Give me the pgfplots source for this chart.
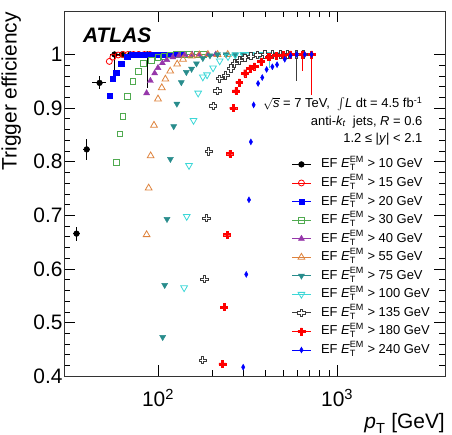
\documentclass[border=0pt]{standalone}
\usepackage{fontspec}
\setmainfont{Liberation Sans}
\usepackage{amsmath}
\usepackage{pgfplots}
\pgfplotsset{compat=1.18}

\definecolor{cgreen}{RGB}{80,170,80}
\definecolor{cpurple}{RGB}{150,55,170}
\definecolor{corange}{RGB}{222,130,60}
\definecolor{cteal}{RGB}{40,140,140}
\definecolor{ccyan}{RGB}{60,215,215}
\definecolor{cgrey}{RGB}{60,60,60}

\pgfdeclareplotmark{crosspath}{%
  \pgfpathmoveto{\pgfpoint{0.3*\pgfplotmarksize}{\pgfplotmarksize}}%
  \pgfpathlineto{\pgfpoint{0.3*\pgfplotmarksize}{0.3*\pgfplotmarksize}}%
  \pgfpathlineto{\pgfpoint{\pgfplotmarksize}{0.3*\pgfplotmarksize}}%
  \pgfpathlineto{\pgfpoint{\pgfplotmarksize}{-0.3*\pgfplotmarksize}}%
  \pgfpathlineto{\pgfpoint{0.3*\pgfplotmarksize}{-0.3*\pgfplotmarksize}}%
  \pgfpathlineto{\pgfpoint{0.3*\pgfplotmarksize}{-\pgfplotmarksize}}%
  \pgfpathlineto{\pgfpoint{-0.3*\pgfplotmarksize}{-\pgfplotmarksize}}%
  \pgfpathlineto{\pgfpoint{-0.3*\pgfplotmarksize}{-0.3*\pgfplotmarksize}}%
  \pgfpathlineto{\pgfpoint{-\pgfplotmarksize}{-0.3*\pgfplotmarksize}}%
  \pgfpathlineto{\pgfpoint{-\pgfplotmarksize}{0.3*\pgfplotmarksize}}%
  \pgfpathlineto{\pgfpoint{-0.3*\pgfplotmarksize}{0.3*\pgfplotmarksize}}%
  \pgfpathlineto{\pgfpoint{-0.3*\pgfplotmarksize}{\pgfplotmarksize}}%
  \pgfpathclose}
\pgfdeclareplotmark{ocross}{\pgfuseplotmark{crosspath}\pgfusepathqfillstroke}
\pgfdeclareplotmark{fcross}{\pgfuseplotmark{crosspath}\pgfusepathqfillstroke}

\begin{document}
\begin{tikzpicture}
\useasboundingbox (-64.3bp,-58.7bp) rectangle (387.7bp,376.3bp);
\begin{axis}[
  scale only axis,
  width=380.7bp, height=365.3bp,
  xmode=log,
  xmin=30, xmax=4000,
  ymin=0.4, ymax=1.081,
  xtick={100,1000},
  xticklabels={10\textsuperscript{2},10\textsuperscript{3}},
  ytick={0.4,0.5,0.6,0.7,0.8,0.9,1},
  yticklabels={0.4,0.5,0.6,0.7,0.8,0.9,1},
  minor y tick num=4,
  tick align=inside,
  major tick length=11bp,
  minor tick length=6bp,
  every tick/.style={black, line width=0.8bp},
  axis line style={line width=0.8bp, black!80},
  tick label style={font=\fontsize{21}{25}\selectfont},
  label style={font=\fontsize{21}{25}\selectfont},
  xticklabel style={anchor=base, yshift=-30.4bp, inner sep=0pt},
  yticklabel style={inner xsep=1.6bp},
  xlabel={$\textit{p}_{\text{T}}$ [GeV]},
  xlabel style={at={(rel axis cs:1,0)}, anchor=base east, yshift=-51.7bp, inner sep=0pt},
  ylabel={Trigger efficiency},
  ylabel style={at={(rel axis cs:-0.125,0.997)}, anchor=base east, inner sep=0pt},
  legend cell align=left,
  legend style={at={(rel axis cs:0.597,0.606)}, anchor=north west, draw=none, fill=none,
    font=\fontsize{13}{15.6}\selectfont, inner sep=0pt, column sep=10bp, row sep=0pt,
    nodes={inner ysep=2.78bp, inner xsep=0pt, text height=10bp, text depth=3bp}},
  legend image code/.code={%
    \draw[sharp plot, line width=0.9bp] (0bp,0bp) -- (18.4bp,0bp);
    \draw[only marks] plot coordinates {(9.2bp,0bp)};},
  error bars/error bar style={line width=0.9bp},
  error bars/error mark=none,
  error bars/x dir=both, error bars/x explicit,
  error bars/y dir=both, error bars/y explicit,
]

% EF > 10 GeV
\addplot[only marks, black, mark=*, mark size=2.9pt]
coordinates {
 (35.1,0.666) +- (1.4,0.013)
 (40.0,0.823) +- (2.0,0.019)
 (47.2,0.947) +- (4.3,0.012)
 (57.2,1.000) += (3.0,0) -= (3.0,0.033)
 (63,1.000) +- (3.0,0)
 (70,1.000) +- (3.5,0)
 (78,1.000) +- (4.0,0)
 (87.3,1.000) += (4.0,0) -= (4.0,0.063)
};
\addlegendentry{EF $\textit{E}_{\text{T}}^{\text{EM}}$ > 10 GeV}

% EF > 15 GeV
\addplot[only marks, red, mark=o, mark size=3pt, mark options={fill=white, line width=0.8bp}]
coordinates {
 (53.5,0.987) (56,0.995) (60,0.999) +- (2.4,0) (64,1) +- (2.6,0) (68,1) +- (2.7,0)
 (73,1) +- (2.9,0) (78,1) +- (3.1,0) (84,1) +- (3.4,0) (90,1) +- (3.6,0)
};
\addlegendentry{EF $\textit{E}_{\text{T}}^{\text{EM}}$ > 15 GeV}

% EF > 20 GeV
\addplot[only marks, blue, mark=square*, mark size=2.6pt]
coordinates {
 (53.7,0.923) (56,0.955) (58.5,0.966) (62.4,0.983) (67.4,0.996) +- (2.7,0)
 (71.5,0.999) +- (2.9,0) (76,1) +- (3,0) (81,1) +- (3.2,0) (86,1) +- (3.4,0)
 (92,1) +- (3.7,0) (98,1) +- (3.9,0) (104,1) +- (4.2,0) (111,1) +- (4.4,0)
 (118,1) +- (4.7,0) (126,1) +- (5,0) (134,1) +- (5.4,0)
};
\addlegendentry{EF $\textit{E}_{\text{T}}^{\text{EM}}$ > 20 GeV}

% EF > 30 GeV
\addplot[only marks, cgreen, mark=square, mark size=2.9pt, mark options={fill=white, line width=0.8bp}]
coordinates {
 (58.5,0.799) (61.3,0.852) (63.7,0.885) (67.4,0.922) (72.5,0.950) (77.7,0.969)
 (82.8,0.983) (91.8,0.989) (100,0.994) +- (4,0) (108,0.997) +- (4.3,0)
 (117,0.999) +- (4.7,0) (127,1) +- (5.1,0) (138,1) +- (5.5,0)
 (150,1) +- (6,0) (165,1) +- (6.6,0) (180,1) +- (7.2,0)
};
\addlegendentry{EF $\textit{E}_{\text{T}}^{\text{EM}}$ > 30 GeV}

% EF > 40 GeV
\addplot[only marks, cpurple, mark=triangle*, mark size=3.5pt]
coordinates {
 (86.4,0.928) (90.7,0.951) (95.8,0.965) (100,0.975) (105.8,0.984) (112,0.990)
 (121,0.995) +- (4.8,0) (131,0.998) +- (5.2,0) (141,0.999) +- (5.6,0)
 (155,1) +- (6.2,0) (170,1) +- (6.8,0) (190,1) +- (7.6,0) (210,1) +- (8.4,0)
};
\addlegendentry{EF $\textit{E}_{\text{T}}^{\text{EM}}$ > 40 GeV}

% EF > 55 GeV
\addplot[only marks, corange, mark=triangle, mark size=3.9pt, mark options={fill=white, line width=0.8bp}]
coordinates {
 (86.4,0.664) (88.7,0.751) (91,0.811) (95,0.868) (100,0.917) (105,0.938)
 (110,0.954) (117,0.969) (128,0.982) (138,0.991) (154,0.997) +- (6.2,0)
 (170,0.999) +- (6.8,0) (190,1) +- (7.6,0) (215,1) +- (8.6,0) (245,1) +- (9.8,0)
};
\addlegendentry{EF $\textit{E}_{\text{T}}^{\text{EM}}$ > 55 GeV}

% EF > 75 GeV
\addplot[only marks, cteal, mark=triangle*, mark size=3.5pt, mark options={rotate=180}]
coordinates {
 (106.2,0.473) (109,0.570) (112.3,0.693) (117.3,0.805) (122.4,0.866) (127.5,0.908)
 (135,0.948) (144,0.967) (154,0.973) (164,0.983) (178,0.993) (195,0.998) +- (7.8,0)
 (215,1) +- (8.6,0) (240,1) +- (9.6,0) (270,1) +- (10.8,0) (300,1) +- (12,0)
};
\addlegendentry{EF $\textit{E}_{\text{T}}^{\text{EM}}$ > 75 GeV}

% EF > 100 GeV
\addplot[only marks, ccyan, mark=triangle, mark size=3.9pt, mark options={rotate=180, fill=white, line width=0.8bp}]
coordinates {
 (139.9,0.565) (144.7,0.698) (149,0.793) (157.9,0.877) (167.6,0.928) (178,0.958)
 (188,0.962) (203,0.975) (221,0.988) (246,0.996) (270,0.999) +- (10.8,0)
 (300,1) +- (12,0) (330,1) +- (13.2,0) (370,1) +- (14.8,0)
 (418,1) += (16.7,0) -= (16.7,0.026) (460,1) +- (18.4,0)
};
\addlegendentry{EF $\textit{E}_{\text{T}}^{\text{EM}}$ > 100 GeV}

% EF > 135 GeV
\addplot[only marks, cgrey, mark=ocross, mark size=3.7pt, mark options={fill=white, line width=0.8bp}]
coordinates {
 (177.5,0.430) (182,0.581) (186,0.695) (192,0.819) (203,0.904) (215,0.932)
 (221,0.955) (239,0.961) (255,0.974) (268,0.983) (286,0.989) (306,0.994)
 (330,0.997) (360,0.999) +- (14.4,0) (395,1) +- (15.8,0) (435,1) +- (17.4,0)
 (480,1) +- (19.2,0) (530,1) +- (21.2,0) (594,1) += (23.8,0) -= (23.8,0.050)
 (650,1) +- (26,0)
};
\addlegendentry{EF $\textit{E}_{\text{T}}^{\text{EM}}$ > 135 GeV}

% EF > 180 GeV
\addplot[only marks, red, mark=fcross, mark size=3.5pt, mark options={fill=red}]
coordinates {
 (229,0.423) (234,0.529) (243,0.664) (252,0.815) (263,0.900) (272,0.932)
 (284,0.948) (305,0.965) (326,0.974) (345,0.978) (375,0.987) (415,0.995)
 (455,0.998) +- (18,0) (500,0.999) +- (20,0) (550,1) +- (22,0)
 (640,1) += (32,0) -= (32,0.031) (720,1) += (36,0) -= (36,0.076)
};
\addlegendentry{EF $\textit{E}_{\text{T}}^{\text{EM}}$ > 180 GeV}

% EF > 240 GeV
\addplot[only marks, blue, mark=diamond*, mark size=3pt, mark options={xscale=0.75}]
coordinates {
 (299,0.417) (311,0.590) (322,0.729) (330,0.837) (342,0.906) (362,0.946)
 (382,0.957) (404,0.972) (435,0.977) (462,0.981) (510,0.991) (550,0.998) +- (22,0)
 (595,1) +- (24,0) (660,1) +- (26,0) (720,1) +- (29,0)
};
\addlegendentry{EF $\textit{E}_{\text{T}}^{\text{EM}}$ > 240 GeV}

\node[anchor=west, inner sep=0pt, font=\fontsize{21}{25}\selectfont\bfseries\itshape]
  at (rel axis cs:0.049,0.933) {ATLAS};
\node[anchor=east, inner sep=0pt, font=\fontsize{13}{15.6}\selectfont]
  at (rel axis cs:0.941,0.745) {$\sqrt{\text{\textit{s}}}$ = 7 TeV,\ \ $\int$\textit{L} dt = 4.5 fb\textsuperscript{-1}};
\node[anchor=east, inner sep=0pt, font=\fontsize{13}{15.6}\selectfont]
  at (rel axis cs:0.941,0.697) {anti-$\textit{k}_{\textit{t}}$\ \ jets, \textit{R} = 0.6};
\node[anchor=east, inner sep=0pt, font=\fontsize{13}{15.6}\selectfont]
  at (rel axis cs:0.941,0.648) {1.2 ≤ |\textit{y}| < 2.1};
\end{axis}
\end{tikzpicture}
\end{document}
